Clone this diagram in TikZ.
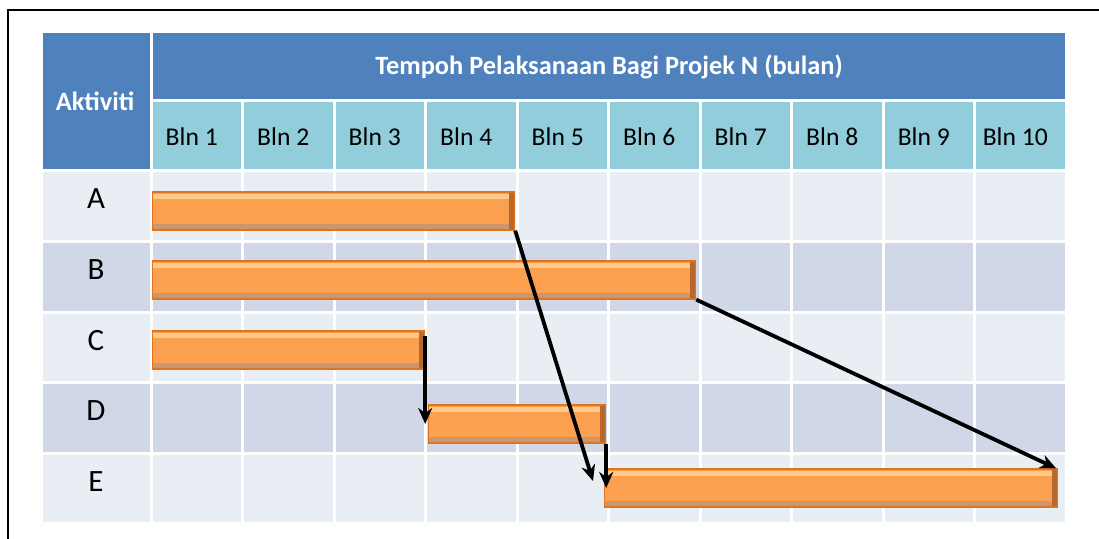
\documentclass[tikz,border=0pt]{standalone}
\usepackage{fontspec}
\setmainfont{Carlito}
\usetikzlibrary{arrows.meta}

\definecolor{hdrblue}{HTML}{4F81BD}
\definecolor{subblue}{HTML}{92CDDC}
\definecolor{rowlight}{HTML}{E9EDF4}
\definecolor{rowdark}{HTML}{D0D8E8}
\definecolor{barfill}{HTML}{FBA04F}
\definecolor{baredge}{HTML}{E0741E}
\definecolor{barhigh}{HTML}{FFC98C}
\definecolor{barshade}{HTML}{B8682C}

\tikzset{
  cell/.style={draw=white,line width=1.5pt},
  hdrtext/.style={text=white,anchor=base,font=\bfseries\fontsize{13.2}{15}\selectfont},
  blntext/.style={anchor=base,font=\fontsize{12.8}{15}\selectfont},
  rowlabel/.style={anchor=base,font=\fontsize{15.5}{18}\selectfont},
  bar/.style={draw=baredge,line width=0.6pt,fill=barfill,minimum height=19pt,
    inner sep=0pt,anchor=west,
    path picture={
      \fill[barhigh] ([yshift=-1pt]path picture bounding box.north west)
        rectangle ([xshift=-3pt,yshift=-3.5pt]path picture bounding box.north east);
      \fill[barshade!70] ([yshift=3pt]path picture bounding box.south west)
        rectangle (path picture bounding box.south east);
      \fill[barshade] ([xshift=-3pt]path picture bounding box.north east)
        rectangle (path picture bounding box.south east);
    }},
  link/.style={line width=1.9pt,-{Stealth[length=8pt,width=7pt]}}
}

\begin{document}
\begin{tikzpicture}[x=0.5pt,y=-0.5pt]
\useasboundingbox (0,0) rectangle (1099,539);
\draw[line width=1.3pt] (8,539) -- (8,10) -- (1099,10);

% header
\draw[cell,fill=hdrblue] (41,32) rectangle (151,171);
\draw[cell,fill=hdrblue] (151,32) rectangle (1066,101);
\node[hdrtext] (aktiviti) at (95,111) {Aktiviti};
\node[hdrtext] (tajuk) at (609,74.5) {Tempoh Pelaksanaan Bagi Projek N (bulan)};

\foreach \m in {1,...,10}{
  \draw[cell,fill=subblue] ({151+(\m-1)*91.5},101) rectangle ({151+\m*91.5},171);
  \node[blntext] (bln\m) at ({146+(\m-0.5)*91.5},146) {Bln \m};
}

% rows
\foreach \r/\shade [count=\i] in {A/rowlight,B/rowdark,C/rowlight,D/rowdark,E/rowlight}{
  \draw[cell,fill=\shade] (41,{171+(\i-1)*70.6}) rectangle (151,{171+\i*70.6});
  \foreach \m in {1,...,10}
    \draw[cell,fill=\shade] ({151+(\m-1)*91.5},{171+(\i-1)*70.6}) rectangle ({151+\m*91.5},{171+\i*70.6});
  \node[rowlabel] (lbl\r) at (96,{171+(\i-1)*70.6+38}) {\r};
}

% bars
\node[bar,minimum width=181pt] (barA) at (152,211) {};
\node[bar,minimum width=271.5pt] (barB) at (152,280) {};
\node[bar,minimum width=136pt] (barC) at (152,350) {};
\node[bar,minimum width=88.5pt] (barD) at (428,424) {};
\node[bar,minimum width=226.5pt] (barE) at (604,488) {};

\coordinate (tipAE) at (593,481);

\draw[link] (barA.south east) -- (tipAE);
\draw[link] (barB.south east) -- ([xshift=-1pt]barE.north east);
\draw[link] ([yshift=-3pt]barC.north east) -- (barC.east |- barD.west);
\draw[link] (barD.south east) -- (barD.east |- barE.west);

\end{tikzpicture}
\end{document}
